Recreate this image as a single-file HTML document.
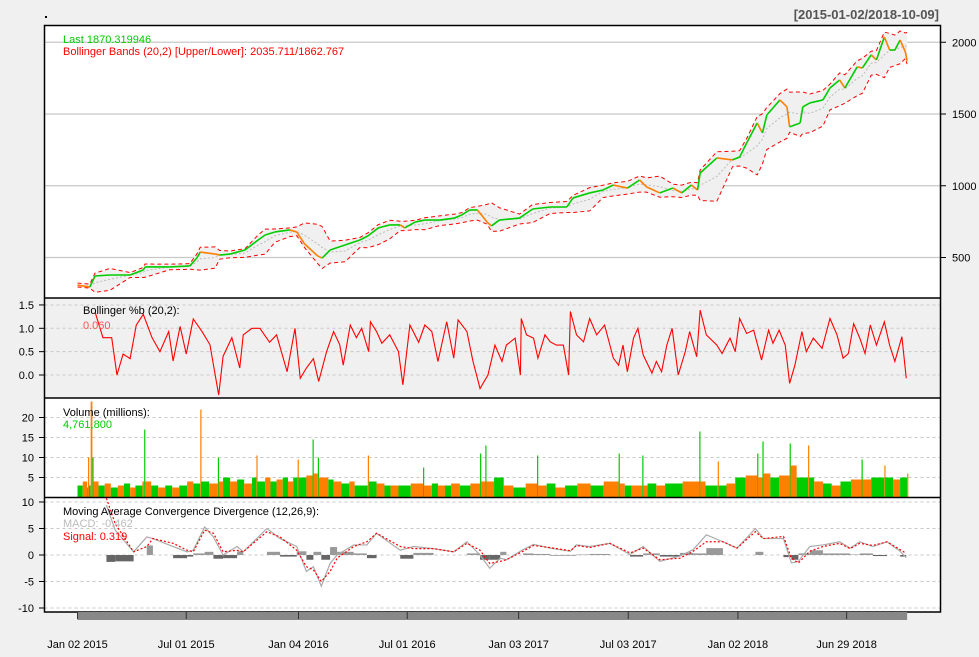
<!DOCTYPE html>
<html><head><meta charset="utf-8"><style>
html,body{margin:0;padding:0;background:#f0f0f0;}
svg{display:block;font-family:"Liberation Sans",Arial,sans-serif;}
</style></head><body>
<svg id="chart" width="979" height="657" viewBox="0 0 979 657" xmlns="http://www.w3.org/2000/svg">
<rect x="0" y="0" width="979" height="657" fill="#f0f0f0"/>
<rect x="44.5" y="25.5" width="896" height="272.5" fill="#ffffff"/>
<rect x="44.5" y="298" width="896" height="100" fill="#f0f0f0"/>
<rect x="44.5" y="398" width="896" height="99.5" fill="#ffffff"/>
<rect x="44.5" y="497.5" width="896" height="114.5" fill="#ffffff"/>
<g id="grid"></g>
<g id="marks"></g>
<g id="frames" fill="none" stroke="#000" stroke-width="1.5">
<rect x="44.5" y="25.5" width="896" height="586.5"/>
<line x1="44.5" y1="298" x2="940.5" y2="298"/>
<line x1="44.5" y1="398" x2="940.5" y2="398"/>
<line x1="44.5" y1="497.5" x2="940.5" y2="497.5"/>
</g>
<rect x="45" y="16" width="2" height="2" fill="#000"/>
<text x="939" y="19" text-anchor="end" font-size="13" font-weight="bold" fill="#555">[2015-01-02/2018-10-09]</text>
<text x="63" y="43" font-size="11" fill="#00cc00">Last 1870.319946</text>
<text x="63" y="55" font-size="11" fill="#ff0000">Bollinger Bands (20,2) [Upper/Lower]: 2035.711/1862.767</text>
<text x="83" y="314" font-size="11" fill="#000">Bollinger %b (20,2):</text>
<text x="83" y="329" font-size="11" fill="#ff5050">0.060</text>
<text x="63" y="416" font-size="11" fill="#000">Volume (millions):</text>
<text x="63" y="428" font-size="11" fill="#00cc00">4,761,800</text>
<text x="63" y="515" font-size="11" fill="#000">Moving Average Convergence Divergence (12,26,9):</text>
<text x="63" y="527" font-size="11" fill="#bbbbbb">MACD: -0.462</text>
<text x="63" y="540" font-size="11" fill="#ff0000">Signal: 0.319</text>
<g id="xaxis"></g>
</svg>
<script>
const priceDays=[0,14,20,37,60,75,77,105,128,136,140,157,162,174,191,206,214,225,242,250,259,274,279,288,305,322,331,343,356,368,373,385,396,413,430,438,447,456,467,472,481,504,519,539,558,565,584,599,611,627,641,649,664,679,689,700,707,710,729,747,755,763,775,781,786,801,809,812,824,827,835,850,858,869,875,889,895,905,911,920,926,932,938,944,946];
const priceClose=[308,294,371,378,378,413,434,434,441,496,538,524,517,524,552,622,657,678,692,678,594,510,496,552,587,622,650,706,727,727,706,747,761,761,775,796,831,831,747,720,761,775,838,852,852,915,950,970,1005,984,1040,991,950,984,950,1005,970,1089,1194,1180,1200,1298,1437,1368,1493,1598,1549,1410,1437,1549,1577,1598,1681,1737,1681,1828,1821,1912,1877,2037,1946,1946,2016,1932,1870];
const pctBDays=[20,29,39,45,52,60,67,75,85,94,104,109,117,124,132,142,151,161,166,176,185,189,199,208,219,227,239,248,254,261,269,275,284,292,299,303,311,318,324,332,334,341,347,356,366,371,379,389,396,404,411,421,429,434,444,451,459,468,476,484,489,499,505,506,512,520,525,533,539,546,554,560,562,569,577,584,592,601,611,617,622,627,634,639,645,655,660,666,672,678,685,693,698,706,710,717,729,735,744,750,755,763,771,780,788,793,800,807,812,818,826,831,839,849,858,866,873,879,885,892,898,904,911,920,926,932,940,945];
const pctBValues=[1.35,0.8,0.8,0,0.45,0.35,1.07,1.3,0.8,0.5,0.93,0.3,1.04,0.45,1.2,0.93,0.65,-0.43,0.4,0.8,0.15,0.86,1.0,1.0,0.7,0.86,0.07,1.0,-0.07,0.15,0.35,-0.14,0.5,0.93,0.65,0.21,1.07,0.8,1.0,0.5,1.14,0.93,0.68,0.86,0.5,-0.21,1.07,0.7,1.07,0.93,0.29,1.14,0.36,1.18,0.93,0.29,-0.29,0,0.64,0.29,0.64,0.79,0,1.21,0.86,0.79,0.36,0.86,0.71,0.64,0.64,0,1.36,0.86,0.71,1.21,0.86,1.07,0.36,0.21,0.64,0.07,0.79,1.0,0.43,0.04,0.29,0.07,0.64,1.0,0,0.5,0.93,0.39,1.39,0.86,0.64,0.46,0.79,0.5,1.21,0.89,0.96,0.32,0.96,0.68,0.96,0.64,-0.18,0.21,0.93,0.5,0.79,0.57,1.21,0.86,0.36,0.46,1.1,0.79,0.46,1.07,0.64,1.14,0.64,0.29,0.82,-0.07];
const volDays=[0,6,11,12,13,15,17,18,24,31,38,46,53,60,66,74,76,77,84,92,100,108,116,125,132,140,141,150,160,161,166,174,182,190,199,204,205,214,220,227,234,240,246,251,252,261,268,269,274,275,286,292,301,310,316,331,332,341,350,357,366,380,394,395,404,411,419,426,436,448,459,460,465,466,475,486,497,511,524,525,535,545,556,570,585,600,617,618,624,632,644,645,650,660,670,690,709,710,716,730,731,740,750,762,775,776,781,782,790,800,812,813,820,833,834,840,850,860,870,882,894,895,905,920,921,930,938,946];
const volValues=[3,4,2.5,10,3,24,10,4,3,3.5,2.5,3,3.5,2.5,3,4,17,4,3,2.5,3,2.5,3,4,3.5,22,4,3.5,10,4,5,4,4.5,3.5,5,10.5,4,5,4,4.5,5,4,5,9.5,5,5.5,14.5,6,10,5,4.5,4,3.5,4,3,10.5,4,3.5,3,3,3,3.5,7.5,3,3.5,3,3,3.5,3,3.5,11,4,13,4,5,3,2.5,3.5,10.5,3,3.5,2.5,3,3.5,3,4,11,3.5,3,3,10.5,3,3.5,3,3.5,4,16.5,4,3,9,3,3.5,5,5.5,11,5,14,6,5,5.5,13.5,8,5,13,5,4,3.5,3,4,4.5,9.5,4.5,5,8,5,4.5,5,6];
const macdDays=[33,43,64,79,86,109,125,132,145,155,166,182,189,216,231,250,261,269,278,288,296,315,330,341,368,383,406,429,444,459,470,482,489,508,520,539,562,569,584,607,630,645,664,687,702,717,736,752,773,782,805,814,822,835,850,869,881,892,907,923,938,945];
const macdValues=[9.4,4.7,0.6,3.4,3.1,1.6,0.6,0.9,5.3,3.4,0,1.6,0.6,5,3.1,1.6,-3.1,-2.2,-5.9,-1.6,0,1.9,1.9,4.1,0.9,1.6,1.2,0.6,2.5,0,-2.5,-0.6,-0.9,1.0,2.0,1.3,0.7,1.9,1.6,2.2,0.1,1.6,-1.2,-0.2,1.0,3.8,2.5,1.3,5.0,3.1,3.1,-1.5,-1.2,1.6,1.9,2.5,1.3,2.5,1.6,2.5,0.7,-0.5];
const signalValues=[10.7,5.9,0.6,1.6,3.1,2.2,0.9,0.6,4.7,4.1,0.6,0.9,0.6,4.4,3.4,0.9,-2.2,-2.8,-5,-3.1,-0.6,1.6,2.5,4.1,1.6,1.2,1.2,0.6,2.2,0.9,-1.6,-1.2,-0.9,0.7,1.8,1.4,0.8,1.8,1.4,2.2,0.4,1.3,-0.9,-0.6,0.7,2.5,2.5,1.3,4.4,3.1,3.5,-0.6,-1.5,0.7,1.6,2.2,1.2,2.2,1.8,2.5,1.0,0.3];
const priceTicks=[2000,1500,1000,500];
const pctBTicks=[1.5,1.0,0.5,0.0];
const volTicks=[20,15,10,5];
const macdTicks=[10,5,0,-5,-10];
const xTickDays=[0,124,252,376,503,628,753,877];
const xTickLabels=["Jan 02 2015","Jul 01 2015","Jan 04 2016","Jul 01 2016","Jan 03 2017","Jul 03 2017","Jan 02 2018","Jun 29 2018"];

const NS="http://www.w3.org/2000/svg";
const X=d=>77.5+d*0.877;
const yP=v=>257.5-(v-500)*0.1435;
const yB=v=>375-v*46.7;
const yV=v=>497.5-v*4;
const yM=v=>555-v*5.3;
function mk(tag,attrs,parent){const e=document.createElementNS(NS,tag);for(const k in attrs)e.setAttribute(k,attrs[k]);parent.appendChild(e);return e;}
const grid=document.getElementById('grid'),marks=document.getElementById('marks'),xa=document.getElementById('xaxis');

priceTicks.forEach(t=>{
 const l=mk('line',{x1:44.5,x2:940.5,y1:yP(t),y2:yP(t),stroke:'#c8c8c8','stroke-width':1.2},grid);
 
 
 const k=mk('line',{x1:940.5,x2:946,y1:yP(t),y2:yP(t),stroke:'#000'},grid);
 
 
 const tx=mk('text',{x:952,y:yP(t)+4,'font-size':11,fill:'#000'},grid);tx.textContent=t;
 
 
});
function leftAxis(ticks,yf,name){ticks.forEach(t=>{
 const l=mk('line',{x1:44.5,x2:940.5,y1:yf(t),y2:yf(t),stroke:'#c8c8c8','stroke-dasharray':'3,3'},grid);
 
 
 const k=mk('line',{x1:39,x2:44.5,y1:yf(t),y2:yf(t),stroke:'#000'},grid);
 
 
 const tx=mk('text',{x:34,y:yf(t)+4,'font-size':11,fill:'#000','text-anchor':'end'},grid);tx.textContent=(name==='percent-b')?t.toFixed(1):t;
 
 
});}
leftAxis(pctBTicks,yB,'percent-b');leftAxis(volTicks,yV,'volume');leftAxis(macdTicks,yM,'macd');

const up=[],lo=[],mid=[];
priceDays.forEach((d,i)=>{
 let w=[];for(let j=0;j<=i;j++)if(priceDays[j]>d-30)w.push(priceClose[j]);
 if(i>0&&w.length<2)w.unshift(priceClose[i-1]);
 const m=w.reduce((a,b)=>a+b,0)/w.length;
 const s=Math.sqrt(w.reduce((a,b)=>a+(b-m)*(b-m),0)/w.length);
 const h=Math.max(2*s,0.045*m);
 mid.push(m);up.push(m+h);lo.push(m-h);
});
let poly=priceDays.map((d,i)=>X(d)+','+yP(up[i])).join(' ')+' '+priceDays.map((d,i)=>X(d)+','+yP(lo[i])).reverse().join(' ');
const band=mk('polygon',{points:poly,fill:'#f0f0f0'},marks);


const mline=mk('polyline',{points:priceDays.map((d,i)=>X(d)+','+yP(mid[i])).join(' '),fill:'none',stroke:'#bbb','stroke-dasharray':'2,2'},marks);


[[up,'bollinger-upper'],[lo,'bollinger-lower']].forEach(([arr,n])=>{
 const p=mk('polyline',{points:priceDays.map((d,i)=>X(d)+','+yP(arr[i])).join(' '),fill:'none',stroke:'#ff0000','stroke-dasharray':'4,3'},marks);
 
 
});
for(let i=1;i<priceDays.length;i++){
 const s=mk('line',{x1:X(priceDays[i-1]),y1:yP(priceClose[i-1]),x2:X(priceDays[i]),y2:yP(priceClose[i]),stroke:priceClose[i]>=priceClose[i-1]?'#00cc00':'#ff7f00','stroke-width':1.6},marks);
 
 
}
const pb=mk('polyline',{points:pctBDays.map((d,i)=>X(d)+','+yB(pctBValues[i])).join(' '),fill:'none',stroke:'#ff0000','stroke-width':1.1},marks);


for(let i=0;i<volDays.length;i++){
 const w=(i<volDays.length-1?(volDays[i+1]-volDays[i]):1)*0.877;
 const r=mk('rect',{x:X(volDays[i]),y:yV(volValues[i]),width:Math.max(w,1.2),height:volValues[i]*4,fill:i%2?'#ff7f00':'#00cc00'},marks);
 
 
}
for(let i=0;i<macdDays.length-1;i++){
 const h=macdValues[i]-signalValues[i];
 const r=mk('rect',{x:X(macdDays[i]),y:Math.min(yM(h),yM(0)),width:(macdDays[i+1]-macdDays[i])*0.877,height:Math.abs(h)*5.3,fill:h>=0?'#999999':'#666666'},marks);
 
 
}
const ml=mk('polyline',{points:macdDays.map((d,i)=>X(d)+','+yM(macdValues[i])).join(' '),fill:'none',stroke:'#aaaaaa','stroke-width':1.2},marks);


const sl=mk('polyline',{points:macdDays.map((d,i)=>X(d)+','+yM(signalValues[i])).join(' '),fill:'none',stroke:'#ff0000','stroke-dasharray':'2,2','stroke-width':1.2},marks);


const gb=mk('rect',{x:X(0),y:612,width:X(946)-X(0),height:8,fill:'#888'},xa);


xTickDays.forEach((d,i)=>{
 const k=mk('line',{x1:X(d),x2:X(d),y1:612,y2:619,stroke:'#333'},xa);
 
 
 const t=mk('text',{x:X(d),y:648,'font-size':11,'text-anchor':'middle',fill:'#000'},xa);t.textContent=xTickLabels[i];
 
 
});
</script>
</body></html>
